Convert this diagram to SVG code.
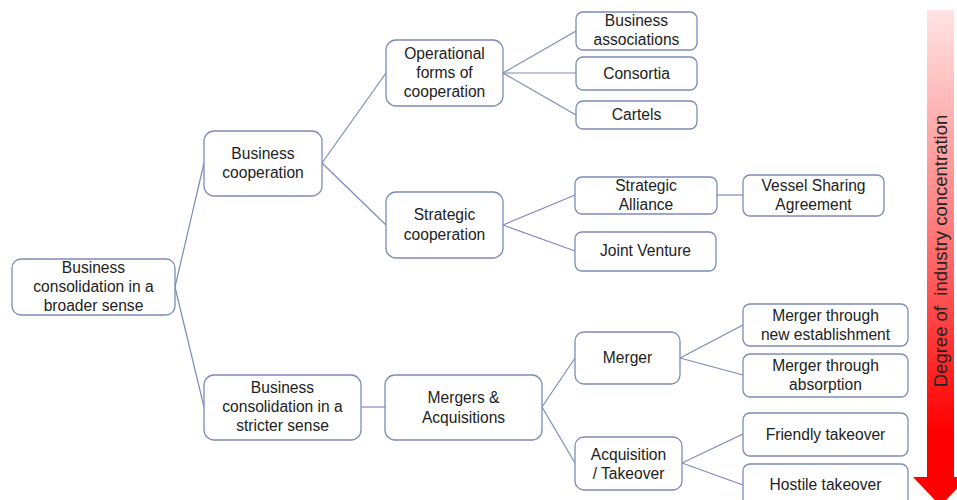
<svg xmlns="http://www.w3.org/2000/svg" width="957" height="500" viewBox="0 0 957 500">
<defs>
<linearGradient id="arrowGrad" gradientUnits="userSpaceOnUse" x1="0" y1="10" x2="0" y2="430">
<stop offset="0" stop-color="#ffe4e4"/>
<stop offset="0.5" stop-color="#ff8080"/>
<stop offset="1" stop-color="#ff0000"/>
</linearGradient>
<style>
.box{fill:#ffffff;stroke:#7d8bb8;stroke-width:1.3}
.t{font-family:"Liberation Sans",Arial,sans-serif;font-size:15.6px;fill:#222222;text-anchor:middle}
.c{stroke:#7d8bb8;stroke-width:1.2;fill:none}
</style>
</defs>
<rect width="957" height="500" fill="#ffffff"/>
<g id="arrow">
<path d="M927,10 H954 V477 H968 L940.5,506 L913,477 H927 Z" fill="url(#arrowGrad)"/>
<text class="t" style="font-size:18.5px" xml:space="preserve" transform="translate(947,251) rotate(-90)">Degree of  industry concentration</text>
</g>
<g id="connectors">
<line class="c" x1="175" y1="287" x2="204" y2="163"/>
<line class="c" x1="175" y1="287" x2="204" y2="407"/>
<line class="c" x1="322" y1="163" x2="386" y2="73"/>
<line class="c" x1="322" y1="163" x2="386" y2="225"/>
<line class="c" x1="503" y1="73" x2="576" y2="31"/>
<line class="c" x1="503" y1="73" x2="576" y2="73"/>
<line class="c" x1="503" y1="73" x2="576" y2="115"/>
<line class="c" x1="503" y1="225" x2="575" y2="195"/>
<line class="c" x1="503" y1="225" x2="575" y2="251"/>
<line class="c" x1="717" y1="195" x2="743" y2="195"/>
<line class="c" x1="361" y1="407" x2="385" y2="407"/>
<line class="c" x1="542" y1="407" x2="575" y2="358"/>
<line class="c" x1="542" y1="407" x2="575" y2="463"/>
<line class="c" x1="680" y1="358" x2="743" y2="325"/>
<line class="c" x1="680" y1="358" x2="743" y2="375"/>
<line class="c" x1="682" y1="463" x2="743" y2="434"/>
<line class="c" x1="682" y1="463" x2="743" y2="485"/>
</g>
<g id="root">
<rect class="box" x="12" y="259" width="163" height="56" rx="9"/>
<text class="t" x="93.5" y="273">Business</text>
<text class="t" x="93.5" y="292">consolidation in a</text>
<text class="t" x="93.5" y="311">broader sense</text>
</g>
<g id="business-cooperation">
<rect class="box" x="204" y="131" width="118" height="65" rx="10"/>
<text class="t" x="263" y="159">Business</text>
<text class="t" x="263" y="178">cooperation</text>
</g>
<g id="stricter">
<rect class="box" x="204" y="375" width="157" height="65" rx="10"/>
<text class="t" x="282.5" y="393">Business</text>
<text class="t" x="282.5" y="412">consolidation in a</text>
<text class="t" x="282.5" y="431">stricter sense</text>
</g>
<g id="operational">
<rect class="box" x="386" y="40" width="117" height="66" rx="10"/>
<text class="t" x="444.5" y="59">Operational</text>
<text class="t" x="444.5" y="78">forms of</text>
<text class="t" x="444.5" y="97">cooperation</text>
</g>
<g id="strategic-cooperation">
<rect class="box" x="386" y="192" width="117" height="66" rx="10"/>
<text class="t" x="444.5" y="220">Strategic</text>
<text class="t" x="444.5" y="240">cooperation</text>
</g>
<g id="mergers-acquisitions">
<rect class="box" x="385" y="375" width="157" height="65" rx="10"/>
<text class="t" x="463.5" y="403">Mergers &amp;</text>
<text class="t" x="463.5" y="423">Acquisitions</text>
</g>
<g id="business-associations">
<rect class="box" x="576" y="12" width="121" height="38" rx="7"/>
<text class="t" x="636.5" y="26">Business</text>
<text class="t" x="636.5" y="45">associations</text>
</g>
<g id="consortia">
<rect class="box" x="576" y="57" width="121" height="33" rx="7"/>
<text class="t" x="636.5" y="79">Consortia</text>
</g>
<g id="cartels">
<rect class="box" x="576" y="101" width="121" height="28" rx="7"/>
<text class="t" x="636.5" y="120">Cartels</text>
</g>
<g id="strategic-alliance">
<rect class="box" x="575" y="177" width="142" height="37" rx="7"/>
<text class="t" x="646" y="191">Strategic</text>
<text class="t" x="646" y="210">Alliance</text>
</g>
<g id="vessel-sharing">
<rect class="box" x="743" y="175" width="141" height="41" rx="7"/>
<text class="t" x="813.5" y="191">Vessel Sharing</text>
<text class="t" x="813.5" y="210">Agreement</text>
</g>
<g id="joint-venture">
<rect class="box" x="575" y="232" width="141" height="39" rx="7"/>
<text class="t" x="645.5" y="256">Joint Venture</text>
</g>
<g id="merger">
<rect class="box" x="575" y="332" width="105" height="52" rx="9"/>
<text class="t" x="627.5" y="363">Merger</text>
</g>
<g id="acquisition">
<rect class="box" x="575" y="437" width="107" height="53" rx="9"/>
<text class="t" x="628.5" y="460">Acquisition</text>
<text class="t" x="628.5" y="479">/ Takeover</text>
</g>
<g id="merger-new">
<rect class="box" x="743" y="304" width="165" height="42" rx="7"/>
<text class="t" x="825.5" y="321">Merger through</text>
<text class="t" x="825.5" y="340">new establishment</text>
</g>
<g id="merger-absorption">
<rect class="box" x="743" y="354" width="165" height="43" rx="7"/>
<text class="t" x="825.5" y="371">Merger through</text>
<text class="t" x="825.5" y="390">absorption</text>
</g>
<g id="friendly">
<rect class="box" x="743" y="413" width="165" height="43" rx="7"/>
<text class="t" x="825.5" y="440">Friendly takeover</text>
</g>
<g id="hostile">
<rect class="box" x="743" y="464" width="165" height="44" rx="7"/>
<text class="t" x="825.5" y="490">Hostile takeover</text>
</g>
</svg>
